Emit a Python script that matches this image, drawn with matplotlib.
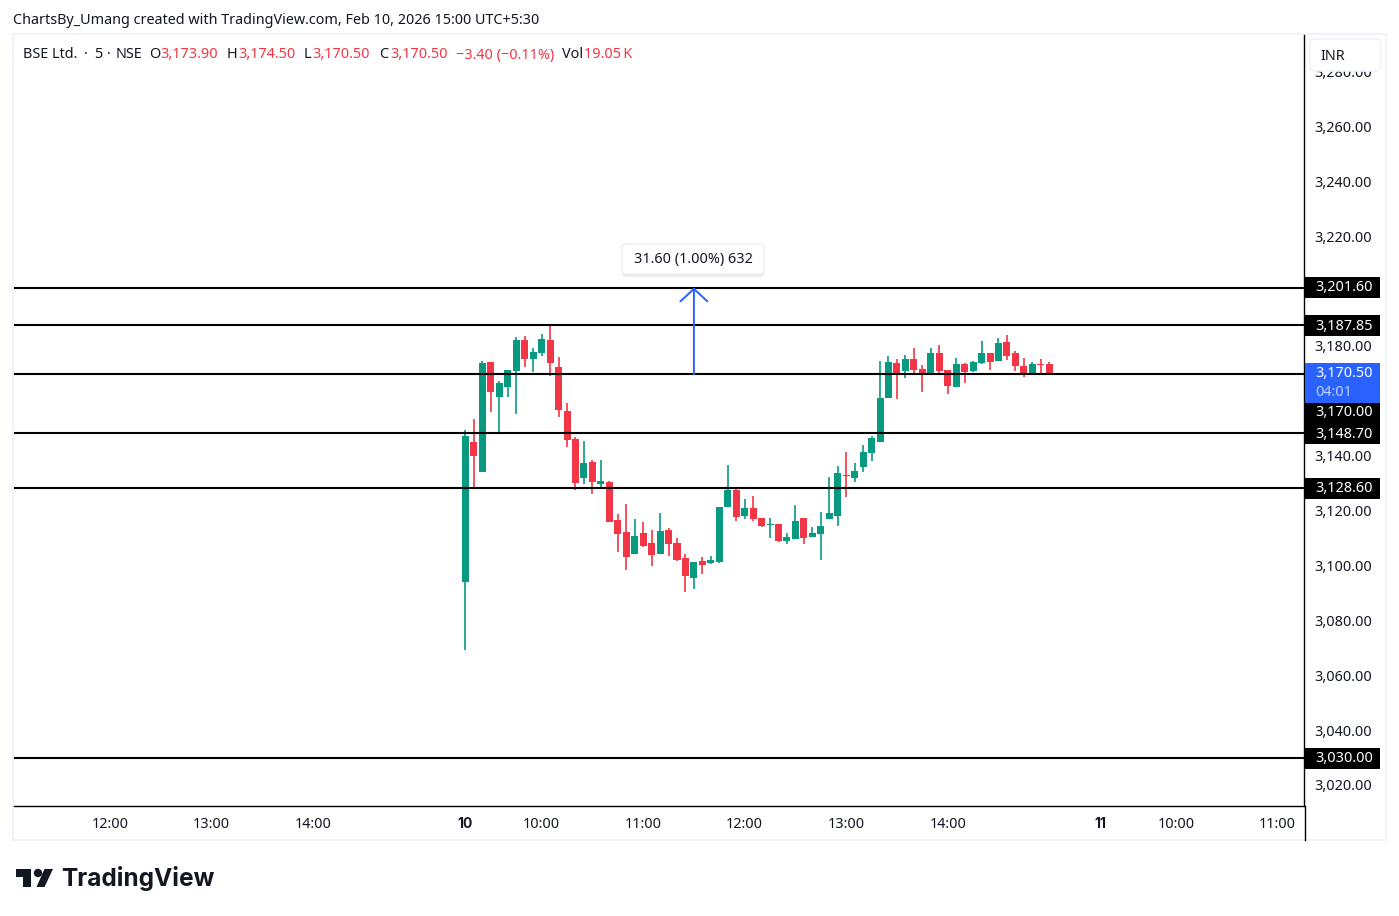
import matplotlib
matplotlib.use('Agg')
import matplotlib.pyplot as plt
from matplotlib.patches import FancyBboxPatch, Rectangle, Polygon, Circle
from matplotlib.lines import Line2D
from matplotlib.transforms import IdentityTransform, ScaledTranslation, blended_transform_factory
import matplotlib.patheffects as pe
import numpy as np

plt.rcParams['font.family'] = ['Noto Sans', 'DejaVu Sans']

# 5 minute candles of Feb 10, first bar is 9:15
opens = [3094.1, 3145.4, 3134.45, 3174.5, 3161.8, 3165.4, 3171.3, 3182.6, 3175.6, 3177.8,
         3182.6, 3172.7, 3156.7, 3146.5, 3132.3, 3138.1, 3130.1, 3130.8, 3117.0, 3112.6,
         3104.6, 3112.2, 3108.6, 3104.6, 3113.3, 3108.6, 3103.1, 3095.8, 3102.0, 3101.3,
         3101.65, 3121.7, 3127.9, 3118.4, 3121.3, 3117.7, 3115.1, 3115.5, 3109.3, 3110.0,
         3117.7, 3110.8, 3111.9, 3117.3, 3118.4, 3133.1, 3132.3, 3136.3, 3141.4, 3145.4,
         3161.4, 3174.2, 3171.3, 3175.6, 3172.0, 3170.2, 3177.8, 3171.6, 3165.4, 3173.8,
         3171.3, 3174.2, 3177.8, 3174.9, 3181.8, 3177.8, 3173.1, 3170.5, 3173.7, 3173.9]
highs = [3149.8, 3153.8, 3174.9, 3174.5, 3167.6, 3171.6, 3183.7, 3184.0, 3179.6, 3184.7,
         3188.0, 3176.4, 3159.6, 3147.2, 3145.75, 3138.8, 3138.8, 3131.2, 3119.15, 3122.8,
         3117.3, 3116.2, 3113.3, 3119.5, 3114.05, 3110.4, 3104.6, 3101.65, 3103.5, 3103.8,
         3121.7, 3137.0, 3128.6, 3124.6, 3125.7, 3117.7, 3117.7, 3115.5, 3112.2, 3122.4,
         3117.7, 3114.4, 3119.9, 3132.6, 3136.6, 3141.7, 3137.7, 3144.3, 3147.6, 3174.9,
         3176.7, 3175.6, 3177.1, 3179.6, 3173.45, 3179.6, 3180.7, 3171.6, 3176.0, 3174.2,
         3174.9, 3182.2, 3177.8, 3183.3, 3184.4, 3178.5, 3176.0, 3174.5, 3175.6, 3174.5]
lows = [3069.6, 3128.6, 3134.45, 3156.3, 3148.3, 3161.8, 3155.6, 3172.7, 3170.9, 3176.7,
        3169.4, 3154.5, 3143.6, 3127.9, 3130.1, 3126.4, 3128.3, 3116.2, 3105.3, 3098.7,
        3104.6, 3107.1, 3100.2, 3104.6, 3103.8, 3102.0, 3090.7, 3091.8, 3097.3, 3100.9,
        3101.3, 3121.7, 3116.6, 3117.3, 3116.6, 3114.4, 3110.4, 3108.9, 3108.2, 3110.0,
        3108.2, 3110.8, 3102.4, 3117.3, 3114.8, 3125.3, 3130.8, 3134.45, 3138.5, 3145.4,
        3161.4, 3161.1, 3168.7, 3169.8, 3163.6, 3170.2, 3170.5, 3162.9, 3165.4, 3166.9,
        3170.9, 3173.8, 3171.6, 3174.9, 3175.3, 3171.3, 3169.1, 3169.8, 3169.8, 3170.5]
closes = [3147.6, 3140.3, 3174.2, 3163.6, 3166.9, 3171.6, 3182.6, 3175.6, 3178.2, 3182.9,
          3174.2, 3157.05, 3146.1, 3130.4, 3137.7, 3130.8, 3131.2, 3116.2, 3111.9, 3103.5,
          3111.1, 3107.5, 3104.2, 3112.95, 3108.2, 3102.4, 3096.55, 3101.65, 3100.6, 3102.4,
          3121.7, 3127.9, 3118.05, 3121.3, 3117.3, 3114.8, 3115.5, 3109.3, 3110.8, 3116.6,
          3110.4, 3112.2, 3114.8, 3119.5, 3134.1, 3132.9, 3134.8, 3141.7, 3146.8, 3161.4,
          3174.5, 3170.5, 3175.6, 3171.6, 3170.2, 3177.8, 3171.3, 3165.8, 3173.8, 3170.9,
          3174.5, 3177.8, 3174.5, 3181.5, 3176.7, 3173.1, 3170.5, 3173.8, 3173.4, 3170.5]

hline_prices = [3201.6, 3187.85, 3170.0, 3148.7, 3128.6, 3030.0]
price_ticks = [3020, 3040, 3060, 3080, 3100, 3120, 3140, 3160, 3180, 3200, 3220, 3240, 3260, 3280]
# 3,160 and 3,200 are hidden behind the tags in the original
hidden_ticks = [3160, 3200]
time_pos = [-42, -30, -18, 0, 9, 21, 33, 45, 57, 75, 84, 96]
time_labels = ['12:00', '13:00', '14:00', '10', '10:00', '11:00', '12:00', '13:00', '14:00', '11', '10:00', '11:00']
bold_times = ['10', '11']

measure_from = 3170.0
measure_to = 3201.6
measure_bar = 27
measure_label = '31.60 (1.00%) 632'

UP = '#089981'
DOWN = '#f23645'
INK = '#131722'
BLUE = '#2962ff'
FRAME = '#f0f3fa'

W, H = 1399, 916
fig = plt.figure(figsize=(W / 100, H / 100), dpi=100, facecolor='white')


def fx(x):
    return x / W


def fy(y):
    return 1 - y / H


# price scale: price = P0 - K * pixel row
P0 = 3306.38
K = 0.36443

left, right, top, bottom = 14, 1304, 35, 806
ax = fig.add_axes([fx(left), fy(bottom), fx(right - left), (bottom - top) / H])
ax.set_xlim((left - 465.5) / 8.46, (right - 465.5) / 8.46)
ax.set_ylim(P0 - K * bottom, P0 - K * top)

o = np.array(opens)
c = np.array(closes)
idx = np.arange(len(o))
colors = [UP if b >= a else DOWN for a, b in zip(o, c)]
ax.vlines(idx, lows, highs, colors=colors, lw=1.2, zorder=2)
ax.bar(idx, np.abs(c - o), bottom=np.minimum(o, c), width=0.83, color=colors, lw=0, zorder=3)

for p in hline_prices:
    ax.axhline(p, color='black', lw=1.5, zorder=4)

# measure arrow
ax.annotate('', xy=(measure_bar, measure_to), xytext=(measure_bar, measure_from),
            arrowprops=dict(arrowstyle='->,head_length=0.9,head_width=0.97', color=BLUE, lw=1.4,
                            shrinkA=0, shrinkB=0), zorder=5)

for s in ['top', 'left']:
    ax.spines[s].set_visible(False)
for s in ['right', 'bottom']:
    ax.spines[s].set_color('black')
    ax.spines[s].set_linewidth(1.0)

ax.yaxis.tick_right()
ax.set_yticks(price_ticks)
ylabs = ax.set_yticklabels(['' if t in hidden_ticks else f'{t:,.2f}' for t in price_ticks])
ax.tick_params(axis='y', length=0, pad=7.5, labelsize=10.4, labelcolor=INK)
up_shift = ScaledTranslation(0, 0.6 / 72, fig.dpi_scale_trans)
for lab in ylabs:
    lab.set_transform(lab.get_transform() + up_shift)
ax.set_xticks(time_pos)
xlabs = ax.set_xticklabels(time_labels)
ax.tick_params(axis='x', length=0, pad=7.7, labelsize=10.4, labelcolor=INK)
for lab in xlabs:
    if lab.get_text() in bold_times:
        lab.set_fontfamily('Inter')
        lab.set_fontweight('bold')
        lab.set_fontsize(10)

# price tags on the scale, rows are where the tag sits
tf = blended_transform_factory(ax.transAxes, ax.transData)
tag_x = (right + 1 - left) / (right - left)
tag_w = 75 / (right - left)
tag_text_x = (1315.5 - left) / (right - left)


def tag(row, text, height=21):
    price = P0 - K * row
    ax.add_patch(Rectangle((tag_x, price - height * K / 2), tag_w, height * K, transform=tf,
                           facecolor='black', edgecolor='none', clip_on=False, zorder=10))
    ax.text(tag_text_x, price - K * 0.5, text, transform=tf, color='white', fontsize=10.4, va='center', ha='left',
            clip_on=False, zorder=11)


tag(287.5, '3,201.60')
tag(325.5, '3,187.85')
tag(412.5, '3,170.00')
tag(433.5, '3,148.70')
tag(488.5, '3,128.60')
tag(758.5, '3,030.00')

ax.add_patch(Rectangle((tag_x, P0 - K * 403), tag_w, 40 * K, transform=tf,
                       facecolor=BLUE, edgecolor='none', clip_on=False, zorder=12))
ax.text(tag_text_x, P0 - K * 373.5, '3,170.50', transform=tf, color='white', fontsize=10.4, va='center',
        clip_on=False, zorder=13)
ax.text(tag_text_x, P0 - K * 392, '04:01', transform=tf, color='#bfd0ff', fontsize=10.4, va='center',
        clip_on=False, zorder=13)


def px_box(x0, y0, x1, y1, **kw):
    # rounded box given in image pixels, y going down
    r = kw.pop('r', 4)
    p = FancyBboxPatch((x0 + r, H - y1 + r), x1 - x0 - 2 * r, y1 - y0 - 2 * r,
                       boxstyle=f'round,pad={r},rounding_size={r}',
                       transform=IdentityTransform(), **kw)
    fig.add_artist(p)
    return p


# chart frame
fig.add_artist(Rectangle((fx(13), fy(840)), fx(1373), 806 / H, transform=fig.transFigure,
                         facecolor='none', edgecolor=FRAME, lw=1.5, zorder=0))
fig.add_artist(Line2D([fx(1304.5)] * 2, [fy(806), fy(840)], color='black', lw=1.0))

# measure label
box = px_box(622, 244, 764, 274, facecolor='white', edgecolor='#eceef3', lw=1.0, zorder=6)
box.set_path_effects([pe.SimplePatchShadow(offset=(0, -2), shadow_rgbFace='#d5d8e0', alpha=0.5), pe.Normal()])
fig.text(fx(693), fy(260), measure_label, color=INK, fontsize=10.4, ha='center', va='center', zorder=7)

# currency box, covers the 3,280 label
px_box(1310, 39, 1381, 71, facecolor='white', edgecolor=FRAME, lw=1.2, r=5, zorder=6)
fig.text(fx(1320), fy(56), 'INR', color=INK, fontsize=10.4, va='center', zorder=7)

# header
fig.text(fx(13), fy(21), 'ChartsBy_Umang created with TradingView.com, Feb 10, 2026 15:00 UTC+5:30',
         color=INK, fontsize=10.35, va='center')
legend_bits = [(23, 'BSE Ltd.', INK), (84, '·', INK), (94, '5', INK), (107, '·', INK), (115.5, 'NSE', INK),
               (149, 'O', INK), (160, '3,173.90', DOWN), (227, 'H', INK),
               (238, '3,174.50', DOWN), (304, 'L', INK), (312, '3,170.50', DOWN), (379, 'C', INK),
               (390, '3,170.50', DOWN), (456, '−3.40 (−0.11%)', DOWN), (562, 'Vol', INK), (584, '19.05\u2009K', DOWN)]
for x, s, col in legend_bits:
    fig.text(fx(x), fy(55), s, color=col, fontsize=10.4, va='center')

# logo
logo = '#131722'
fig.add_artist(Polygon([(fx(a), fy(b)) for a, b in [(15.7, 869), (30.7, 869), (30.7, 887), (22.7, 887), (22.7, 877), (15.7, 877)]],
                       closed=True, transform=fig.transFigure, facecolor=logo, edgecolor='none'))
fig.add_artist(Polygon([(fx(a), fy(b)) for a, b in [(44.5, 869), (53, 869), (44.5, 887), (36.5, 887)]],
                       closed=True, transform=fig.transFigure, facecolor=logo, edgecolor='none'))
fig.add_artist(Circle((38, H - 873), 4.2, transform=IdentityTransform(), facecolor=logo, edgecolor='none'))
fig.text(fx(61.5), fy(878.5), 'TradingView', color=logo, fontsize=17.6, fontfamily='Inter', fontweight='bold', va='center')

fig.savefig('out.png', dpi=100, facecolor='white')
